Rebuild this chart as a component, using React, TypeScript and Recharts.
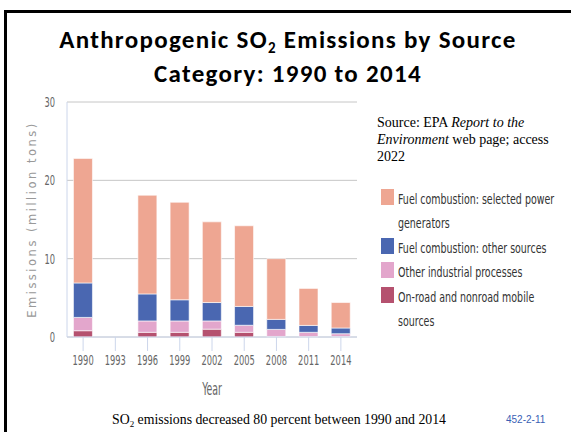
import React from "react";
import { BarChart, Bar, XAxis, YAxis, CartesianGrid, Legend, Label } from "recharts";

// SO2 emissions by source category, million tons
const YEARS = ["1990", "1993", "1996", "1999", "2002", "2005", "2008", "2011", "2014"];
const POWER_GENERATORS = [15.9, null, 12.6, 12.45, 10.3, 10.3, 7.75, 4.72, 3.25];
const OTHER_FUEL = [4.4, null, 3.45, 2.7, 2.35, 2.4, 1.28, 0.88, 0.73];
const INDUSTRIAL = [1.7, null, 1.45, 1.45, 1.05, 0.9, 0.9, 0.55, 0.37];
const MOBILE = [0.8, null, 0.6, 0.6, 1.0, 0.6, 0.07, 0.05, 0.05];
const Y_TICKS = [0, 10, 20, 30];

// legend order (top to bottom) is the reverse of the stacking order
const SERIES = [
  { key: "power", lines: ["Fuel combustion: selected power", "generators"], color: "#EEA692" },
  { key: "otherFuel", lines: ["Fuel combustion: other sources"], color: "#4A67B1" },
  { key: "industrial", lines: ["Other industrial processes"], color: "#E3A6CC" },
  { key: "mobile", lines: ["On-road and nonroad mobile", "sources"], color: "#B5516F" },
];

const data = YEARS.map((year, i) => ({
  year,
  mobile: MOBILE[i],
  industrial: INDUSTRIAL[i],
  otherFuel: OTHER_FUEL[i],
  power: POWER_GENERATORS[i],
}));

const NARROW = "'DejaVu Sans Condensed', 'DejaVu Sans', sans-serif";
const SERIF = "'Liberation Serif', 'DejaVu Serif', serif";
const AXIS_BLUE = "#ccd6eb";
const TICK_SQUEEZE = 0.66;

const XTick = ({ x, y, payload }: any) => (
  <text
    transform={`translate(${x},${y}) scale(${TICK_SQUEEZE},1)`}
    dy="0.71em"
    textAnchor="middle"
    fontFamily={NARROW}
    fontSize={14}
    fill="#666"
  >
    {payload.value}
  </text>
);

const YTick = ({ x, y, payload }: any) => (
  <text
    transform={`translate(${x},${y}) scale(${TICK_SQUEEZE},1)`}
    dy="0.355em"
    textAnchor="end"
    fontFamily={NARROW}
    fontSize={14}
    fill="#666"
  >
    {payload.value}
  </text>
);

const renderLegend = () => (
  <div style={{ fontFamily: NARROW, fontSize: 13.5, color: "#333", lineHeight: "24.4px" }}>
    {SERIES.map((s) => (
      <div key={s.key} style={{ display: "flex", alignItems: "flex-start" }}>
        <span
          style={{
            display: "inline-block",
            width: 13,
            height: 16,
            marginTop: 2,
            marginRight: 4,
            background: s.color,
            flex: "none",
          }}
        />
        <div>
          {s.lines.map((l) => (
            <div
              key={l}
              style={{ whiteSpace: "nowrap", transform: "scaleX(0.78)", transformOrigin: "left" }}
            >
              {l}
            </div>
          ))}
        </div>
      </div>
    ))}
  </div>
);

export default function App() {
  return (
    <div
      style={{
        position: "absolute",
        left: 0,
        top: 0,
        width: 571,
        height: 432,
        overflow: "hidden",
        background: "#fff",
      }}
    >
      <BarChart
        width={571}
        height={432}
        data={data}
        margin={{ top: 102, right: 214, bottom: 65, left: 0 }}
        barCategoryGap="20%"
      >
        <CartesianGrid vertical={false} stroke="#c6c6c6" />
        <XAxis
          dataKey="year"
          interval={0}
          height={30}
          tickSize={14}
          tickMargin={4}
          axisLine={{ stroke: AXIS_BLUE }}
          tickLine={{ stroke: AXIS_BLUE }}
          tick={<XTick />}
        >
          <Label
            content={({ viewBox }: any) => (
              <text
                transform={`translate(${viewBox.x + viewBox.width / 2},${viewBox.y + viewBox.height + 28}) scale(0.58,1)`}
                textAnchor="middle"
                fontFamily={NARROW}
                fontSize={18}
                fill="#666"
              >
                Year
              </text>
            )}
          />
        </XAxis>
        <YAxis
          width={67}
          domain={[0, 30]}
          ticks={Y_TICKS}
          tickSize={0}
          tickMargin={12}
          tickLine={false}
          axisLine={{ stroke: AXIS_BLUE }}
          tick={<YTick />}
        >
          <Label
            content={({ viewBox }: any) => (
              <text
                transform={`translate(32,${viewBox.y + viewBox.height / 2}) rotate(-90)`}
                textAnchor="middle"
                dy="0.35em"
                fontFamily="'DejaVu Sans', sans-serif"
                fontSize={11.5}
                letterSpacing={2.5}
                fill="#999"
              >
                Emissions (million tons)
              </text>
            )}
          />
        </YAxis>
        <Legend
          layout="horizontal"
          verticalAlign="middle"
          align="center"
          content={renderLegend}
          wrapperStyle={{ position: "absolute", left: 381, top: 187, width: 185, height: 150 }}
        />
        {[...SERIES].reverse().map((s) => (
          <Bar
            key={s.key}
            dataKey={s.key}
            stackId="so2"
            fill={s.color}
            stroke="#fff"
            strokeWidth={0.6}
            isAnimationActive={false}
          />
        ))}
      </BarChart>

      <svg
        width={571}
        height={432}
        style={{ position: "absolute", left: 0, top: 0, pointerEvents: "none" }}
      >
        <path d="M5.5,432 V11.5 H571" fill="none" stroke="#000" strokeWidth={3} />
        <g
          fontFamily="Carlito, Lato, sans-serif"
          fontWeight={700}
          fontSize={25}
          letterSpacing={1.3}
          fill="#000"
          textAnchor="middle"
        >
          <text x={288} y={48}>
            Anthropogenic SO<tspan fontSize={15} dy={5}>2</tspan>
            <tspan dy={-5}> Emissions by Source</tspan>
          </text>
          <text x={288} y={82}>Category: 1990 to 2014</text>
        </g>
        <g fontFamily={SERIF} fontSize={14} fill="#000">
          <text x={377} y={127}>
            Source: EPA <tspan fontStyle="italic">Report to the</tspan>
          </text>
          <text x={377} y={144}>
            <tspan fontStyle="italic">Environment</tspan> web page; access
          </text>
          <text x={377} y={161}>2022</text>
          <text x={112} y={424} fontSize={13.8}>
            SO<tspan fontSize={9} dy={3}>2</tspan>
            <tspan dy={-3}> emissions decreased 80 percent between 1990 and 2014</tspan>
          </text>
        </g>
        <text x={506} y={423} fontFamily="'Liberation Sans', Arial, sans-serif" fontSize={10} fill="#3a5fb5">
          452-2-11
        </text>
      </svg>
    </div>
  );
}
